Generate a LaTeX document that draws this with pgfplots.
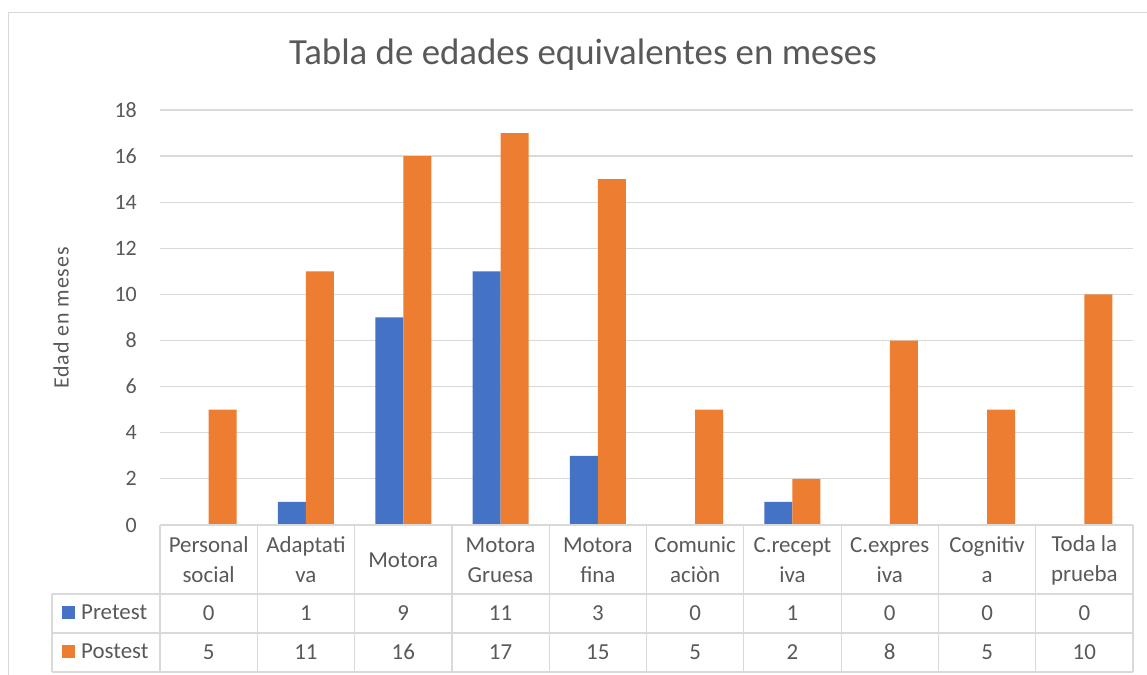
\documentclass[border=0pt]{standalone}
\usepackage{fontspec}
\setmainfont{Carlito}
\newfontfamily\widefont[LetterSpace=4]{Carlito}
\usepackage{pgfplots}
\usepackage{pgfplotstable}
\pgfplotsset{compat=1.18}
\definecolor{tgrey}{HTML}{595959}
\definecolor{ggrey}{HTML}{D9D9D9}
\definecolor{pblue}{HTML}{4472C4}
\definecolor{porange}{HTML}{ED7D31}
\pgfplotstableread{
x pre post
0 0 5
1 1 11
2 9 16
3 11 17
4 3 15
5 0 5
6 1 2
7 0 8
8 0 5
9 0 10
}\data
\begin{document}
\begin{tikzpicture}[x=1bp,y=1bp]
\useasboundingbox (0,0) rectangle (1147,675);
\fill[white] (0,0) rectangle (1147,675);
\draw[ggrey,line width=1.3bp] (8.5,662.5) rectangle (1170,-20);
\begin{axis}[
  at={(160bp,150bp)}, anchor=south west,
  width=973bp, height=415bp, scale only axis,
  xmin=-0.5, xmax=9.5, ymin=0, ymax=18,
  ybar=0pt, bar width=28bp,
  axis line style={draw=none},
  xtick=\empty,
  ytick={0,2,...,18},
  ymajorgrids, grid style={ggrey, line width=1.2bp},
  major tick length=0pt,
  /pgf/number format/assume math mode=true,
  yticklabel style={font=\fontsize{22}{26}\selectfont, text=tgrey, inner sep=0pt, xshift=-23bp},
  clip=false,
]
\addplot[fill=pblue, draw=none] table[x=x,y=pre] {\data};
\addplot[fill=porange, draw=none] table[x=x,y=post] {\data};
\draw[ggrey,line width=1.2bp] (axis cs:-0.5,0) -- (axis cs:9.5,0);
\end{axis}
% title and y label
\node[text=tgrey, font=\fontsize{37}{42}\selectfont] at (583,620) {Tabla de edades equivalentes en meses};
\node[text=tgrey, font=\widefont\fontsize{22}{26}\selectfont, rotate=90] at (61,357) {Edad en meses};
% table grid
\foreach \k in {0,...,10} {
  \draw[ggrey,line width=1.2bp] ({160+97.3*\k},150) -- ({160+97.3*\k},3);
}
\draw[ggrey,line width=1.2bp] (52,81) -- (1133,81);
\draw[ggrey,line width=1.2bp] (52,42) -- (1133,42);
\draw[ggrey,line width=1.2bp] (52,3) -- (1133,3);
\draw[ggrey,line width=1.2bp] (52,81) -- (52,3);
% category labels
\foreach \i/\t in {0/{Personal\\social},1/{Adaptati\\va},2/{Motora},3/{Motora\\Gruesa},4/{Motora\\fina},5/{Comunic\\aciòn},6/{C.recept\\iva},7/{C.expres\\iva},8/{Cognitiv\\a},9/{Toda la\\prueba}} {
  \node[text=tgrey, font=\fontsize{23}{30}\selectfont, align=center] at ({160+97.3*(\i+0.5)},115) {\t};
}
% values
\foreach \i in {0,...,9} {
  \pgfplotstablegetelem{\i}{pre}\of\data
  \node[text=tgrey, font=\fontsize{23}{26}\selectfont] at ({160+97.3*(\i+0.5)},62) {\pgfplotsretval};
  \pgfplotstablegetelem{\i}{post}\of\data
  \node[text=tgrey, font=\fontsize{23}{26}\selectfont] at ({160+97.3*(\i+0.5)},23) {\pgfplotsretval};
}
% legend keys
\fill[pblue] (62,56) rectangle (75,69);
\node[text=tgrey, font=\fontsize{23}{26}\selectfont, anchor=west, inner sep=0pt] at (81,63) {Pretest};
\fill[porange] (62,17) rectangle (75,30);
\node[text=tgrey, font=\fontsize{23}{26}\selectfont, anchor=west, inner sep=0pt] at (81,24) {Postest};
\end{tikzpicture}
\end{document}
